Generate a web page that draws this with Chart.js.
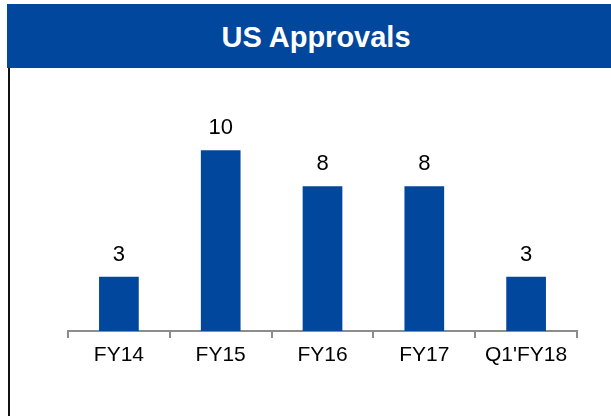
<!DOCTYPE html>
<html>
<head>
<meta charset="utf-8">
<script src="https://cdn.jsdelivr.net/npm/chart.js@4/dist/chart.umd.min.js"></script>
<style>
  html,body{margin:0;padding:0;background:#fff;}
  #wrap{position:relative;width:611px;height:416px;overflow:hidden;font-family:"Liberation Sans",Arial,sans-serif;}
  #head{position:absolute;left:7px;top:4px;width:590px;padding-left:14px;height:64px;background:#00479d;color:#fff;
        font-weight:bold;font-size:29px;text-align:center;line-height:66px;}
  #edge{position:absolute;left:8px;top:68px;width:2px;height:348px;background:#111;}
  #c{position:absolute;left:0;top:0;}
</style>
</head>
<body>
<div id="wrap">
  <canvas id="c" width="611" height="416"></canvas>
  <div id="head">US Approvals</div>
  <div id="edge"></div>
</div>
<script>
const categories = ['FY14','FY15','FY16','FY17',"Q1'FY18"];
const approvals = [3, 10, 8, 8, 3];

// etiquetas encima de las barras
const valueLabels = {
  id:'valueLabels',
  afterDatasetsDraw(chart){
    const ctx = chart.ctx;
    const meta = chart.getDatasetMeta(0);
    ctx.save();
    ctx.fillStyle = '#000';
    ctx.font = '22px "Liberation Sans", Arial, sans-serif';
    ctx.textAlign = 'center';
    ctx.textBaseline = 'alphabetic';
    meta.data.forEach((bar,i)=>{
      ctx.fillText(String(approvals[i]), bar.x, bar.y - 16);
    });
    ctx.restore();
  }
};

new Chart(document.getElementById('c'), {
  type:'bar',
  data:{labels:categories,datasets:[{data:approvals,backgroundColor:'#00479d',
    barPercentage:0.78,categoryPercentage:0.5}]},
  options:{
    responsive:false,animation:false,
    layout:{padding:{left:68,right:34,top:114,bottom:0}},
    plugins:{legend:{display:false},tooltip:{enabled:false}},
    scales:{
      x:{
        afterFit(s){ s.height = 85; },
        grid:{display:true,drawOnChartArea:false,tickLength:7,color:'#8c8c8c',lineWidth:2},
        border:{display:true,color:'#8c8c8c',width:2},
        ticks:{color:'#000',font:{size:21,family:'"Liberation Sans", Arial, sans-serif'},padding:5}
      },
      y:{display:false,min:0,max:12}
    }
  },
  plugins:[valueLabels]
});
</script>
</body>
</html>
